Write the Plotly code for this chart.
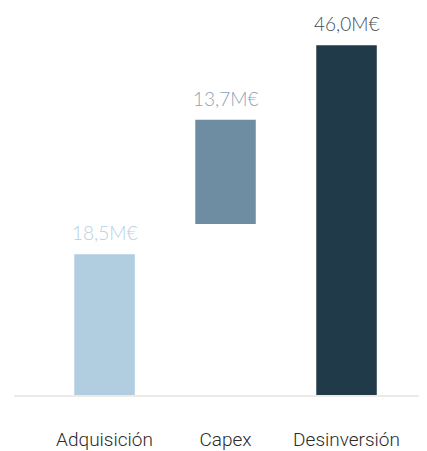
import plotly.graph_objects as go

categories = ["Adquisición", "Capex", "Desinversión"]
values = [18.5, 13.7, 46.0]
bases = [0.0, 22.5, 0.0]
labels = ["18,5M€", "13,7M€", "46,0M€"]
bar_colors = ["#b1cde0", "#6e8ca2", "#213a4a"]
label_colors = ["#b7d0e2", "#8aa4b8", "#3f4d57"]

fig = go.Figure()
fig.add_trace(go.Bar(
    x=categories, y=values, base=bases,
    marker=dict(color=bar_colors, line=dict(width=0)),
    width=0.5, hoverinfo="skip",
))

for c, v, b, t, col in zip(categories, values, bases, labels, label_colors):
    fig.add_annotation(
        x=c, y=v + b, text=t, showarrow=False, yanchor="bottom",
        yshift=8, font=dict(family="Lato", size=19, color=col, weight=300),
    )

# page body has an 8px margin, so the figure is sized to fit the window
fig.update_layout(
    width=419, height=443,
    margin=dict(l=6, r=0, t=0, b=56, autoexpand=False),
    paper_bgcolor="white", plot_bgcolor="white",
    showlegend=False,
    xaxis=dict(
        range=[-0.748, 2.665], showgrid=False, zeroline=False,
        showline=True, linecolor="#eeebe6", linewidth=2,
        ticks="", ticklabelstandoff=26, automargin=False,
        tickfont=dict(family="Roboto", size=19, color="#2b2b2b", weight=300),
    ),
    yaxis=dict(range=[0, 50.9], visible=False, showgrid=False, zeroline=False,
               automargin=False),
)

fig.write_html("out.html")
